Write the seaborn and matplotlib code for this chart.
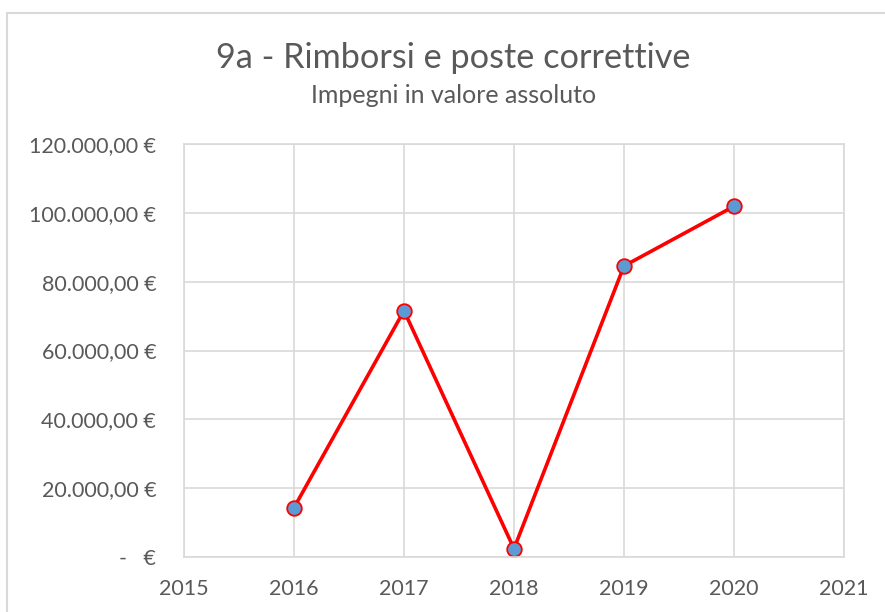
import matplotlib
matplotlib.use("Agg")
import matplotlib.pyplot as plt
import matplotlib.ticker as mticker
from matplotlib.lines import Line2D
import seaborn as sns
import pandas as pd

years = [2016, 2017, 2018, 2019, 2020]
values = [14260, 71580, 2330, 84590, 101960]
title = "9a - Rimborsi e poste correttive"
subtitle = "Impegni in valore assoluto"

sns.set_theme(style="white")
plt.rcParams['font.family'] = ['Lato', 'DejaVu Sans']

df = pd.DataFrame({"Anno": years, "Valore": values})

fig = plt.figure(figsize=(8.85, 6.12), dpi=100)
ax = fig.add_axes([184/885, 1-556.7/612, (844-184)/885, (556.7-144.3)/612])

sns.lineplot(data=df, x="Anno", y="Valore", ax=ax, color="#FF0000", linewidth=2.6,
             marker="o", markersize=10.5, markerfacecolor="#5B9BD5",
             markeredgecolor="#FF0000", markeredgewidth=1.3)

ax.set_xlim(2015, 2021)
ax.set_ylim(0, 120000)
ax.xaxis.set_major_locator(mticker.MultipleLocator(1))
ax.yaxis.set_major_locator(mticker.MultipleLocator(20000))

def fmt(v, pos):
    if abs(v) < 1e-9:
        return "-   €"
    s = f"{v:,.2f}".replace(",", "X").replace(".", ",").replace("X", ".")
    return s + " €"

ax.yaxis.set_major_formatter(mticker.FuncFormatter(fmt))
ax.xaxis.set_major_formatter(mticker.FuncFormatter(lambda v, p: f"{int(round(v))}"))

ax.grid(True, color="#D9D9D9", linewidth=1.2)
ax.set_axisbelow(True)
for s in ax.spines.values():
    s.set_color("#D9D9D9")
    s.set_linewidth(1.2)
ax.tick_params(axis="both", length=0, labelsize=15.5, labelcolor="#595959")
ax.tick_params(axis="y", pad=20)
ax.tick_params(axis="x", pad=16)
ax.set_xlabel("")
ax.set_ylabel("")

fig.text(453/885, 1-68/612, title, ha="center", va="baseline", fontsize=24.7, color="#595959")
fig.text(454/885, 1-103/612, subtitle, ha="center", va="baseline", fontsize=18, color="#595959")

# outer chart border
fig.add_artist(Line2D([6.5/885, 6.5/885], [0, 1-13/612], transform=fig.transFigure, color="#D9D9D9", linewidth=1.5))
fig.add_artist(Line2D([6.5/885, 1], [1-13/612, 1-13/612], transform=fig.transFigure, color="#D9D9D9", linewidth=1.5))

fig.savefig("out.png", dpi=100)
